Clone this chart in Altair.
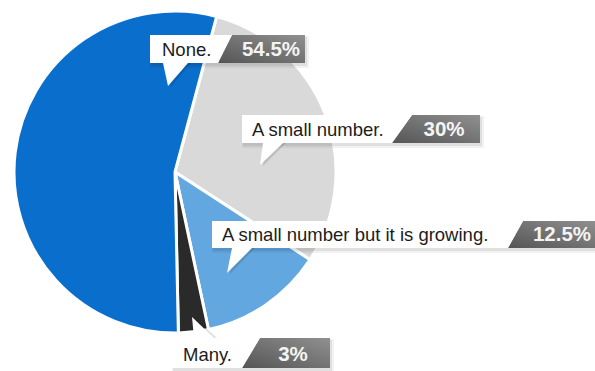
import math
import altair as alt
import pandas as pd

# ---- data ----
categories = ["A small number.", "A small number but it is growing.", "Many.", "None."]
values = [30, 12.5, 3, 54.5]
pct_labels = ["30%", "12.5%", "3%", "54.5%"]
slice_colors = ["#d9d9d9", "#63a7e1", "#2a2a2a", "#0a6fcc"]

# ---- layout of callouts (pixel space of 595x371 canvas) ----
W, H = 595, 371
CX, CY, R = 175, 172, 161
START = math.radians(15)

layout = {
    "None.": dict(left=150, top=35, bottom=63, sb=218, st=232, right=305,
                  tx=162, ty=56, px=271, pb1=163, pb2=188, pby=63, tipx=168, tipy=86),
    "A small number.": dict(left=242, top=115, bottom=143, sb=392, st=412, right=480,
                            tx=252, ty=136, px=444, pb1=263, pb2=283, pby=143, tipx=260, tipy=165),
    "A small number but it is growing.": dict(left=212, top=221, bottom=248, sb=508, st=523, right=597,
                                              tx=222, ty=241, px=562, pb1=232, pb2=252, pby=248, tipx=227, tipy=273),
    "Many.": dict(left=172, top=338, bottom=368, sb=242, st=260, right=330,
                  tx=183, ty=361, px=293, pb1=194, pb2=214, pby=338, tipx=192, tipy=317),
}

slices = pd.DataFrame({"category": categories, "value": values,
                       "ord": list(range(len(categories)))})


def poly(pts, kind, cid):
    ring = [list(p) for p in pts] + [list(pts[0])]
    return {"type": "Feature", "properties": {"kind": kind, "id": cid},
            "geometry": {"type": "Polygon", "coordinates": [ring]}}


white_f, dark_f, ptr_f, ptr_sh_f, shadow_rows, text_rows = [], [], [], [], [], []
for cat, pct in zip(categories, pct_labels):
    L = layout[cat]
    white_f.append(poly([(L["left"], L["top"]), (L["st"], L["top"]), (L["sb"], L["bottom"]),
                         (L["left"], L["bottom"])], "white", cat))
    dark_f.append(poly([(L["st"], L["top"]), (L["right"], L["top"]), (L["right"], L["bottom"]),
                        (L["sb"], L["bottom"])], "dark", cat))
    ptr_f.append(poly([(L["pb1"], L["pby"]), (L["pb2"], L["pby"]), (L["tipx"], L["tipy"])],
                      "ptr", cat))
    ptr_sh_f.append(poly([(L["pb1"] + 3, L["pby"]), (L["pb2"] + 3, L["pby"]),
                          (L["tipx"] + 3, L["tipy"] + 1)], "ptrsh", cat))
    shadow_rows.append(dict(id=cat, x=L["left"] + 1, x2=L["right"] + 2,
                            y=L["top"] + 2, y2=L["bottom"] + 3))
    text_rows.append(dict(id=cat, label=cat, pct=pct, tx=L["tx"], ty=L["ty"], px=L["px"]))

shadow_df = pd.DataFrame(shadow_rows)
text_df = pd.DataFrame(text_rows)

xs = alt.Scale(domain=[0, W], range=[0, W], nice=False, zero=False)
ys = alt.Scale(domain=[0, H], range=[0, H], nice=False, zero=False)
proj = alt.Projection(type="identity", scale=1, translate=[0, 0])


def X(f):
    return alt.X(f, type="quantitative", scale=xs, axis=None)


def Y(f):
    return alt.Y(f, type="quantitative", scale=ys, axis=None)


pie = alt.Chart(slices).mark_arc(radius=R, stroke="white", strokeWidth=3).encode(
    theta=alt.Theta("value:Q", stack=True,
                    scale=alt.Scale(range=[START, START + 2 * math.pi])),
    color=alt.Color("category:N", scale=alt.Scale(domain=categories, range=slice_colors),
                    legend=None),
    order=alt.Order("ord:Q"),
    x=alt.value(CX),
    y=alt.value(CY),
)

shadow2 = alt.Chart(shadow_df).mark_rect(color="#000000", opacity=0.07).encode(
    x=X("x"), x2="x2", y=Y("y"), y2="y2")
shadow1 = alt.Chart(shadow_df).transform_calculate(
    xa="datum.x - 1", xb="datum.x2 + 2", ya="datum.y - 1", yb="datum.y2 + 2"
).mark_rect(color="#000000", opacity=0.05).encode(
    x=X("xa"), x2="xb", y=Y("ya"), y2="yb")

grad = alt.LinearGradient(
    gradient="linear",
    stops=[alt.GradientStop(color="#555555", offset=0),
           alt.GradientStop(color="#909090", offset=1)],
    x1=0, y1=1, x2=1, y2=0)


def shapes(features, color, opacity=1.0):
    return alt.Chart(alt.Data(values=features)).mark_geoshape(
        color=color, strokeWidth=0, opacity=opacity).project(
        type="identity", scale=1, translate=[0, 0])


ptr_shadow = shapes(ptr_sh_f, "#000000", 0.12)
dark = shapes(dark_f, grad)
white = shapes(white_f, "#ffffff")
ptr = shapes(ptr_f, "#ffffff")

label_txt = alt.Chart(text_df).mark_text(
    align="left", baseline="alphabetic", font="Liberation Sans", fontSize=18.5,
    color="#1c1c1c").encode(x=X("tx"), y=Y("ty"), text="label:N")

pct_txt = alt.Chart(text_df).mark_text(
    align="center", baseline="alphabetic", font="Liberation Sans", fontSize=20.5,
    fontWeight="bold", color="#f4f4f4").encode(x=X("px"), y=Y("ty"), text="pct:N")

chart = alt.layer(
    pie, shadow1, shadow2, ptr_shadow, dark, white, ptr, label_txt, pct_txt
).properties(
    width=W, height=H, padding=0,
    autosize=alt.AutoSizeParams(type="none"),
    background="#ffffff",
).configure_view(stroke=None)

chart.save("out.html", embed_options={"renderer": "svg", "actions": False})
